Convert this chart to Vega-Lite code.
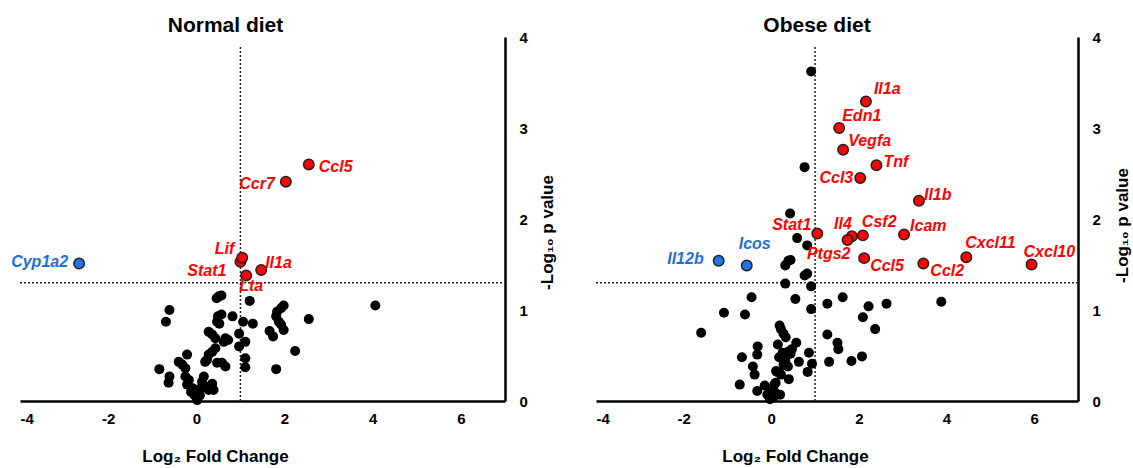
{
  "$schema": "https://vega.github.io/schema/vega-lite/v6.json",
  "padding": {"left": 11, "top": 15, "right": 5, "bottom": 2},
  "spacing": 40,
  "config": {
    "view": {"stroke": null},
    "font": "Liberation Sans",
    "axis": {"grid": false, "ticks": false, "tickSize": 0, "domainColor": "#000", "domainWidth": 2.5, "labelFont": "Liberation Sans", "labelFontSize": 15, "labelFontWeight": "bold", "labelColor": "#000", "titleFont": "Liberation Sans", "titleFontSize": 17, "titleFontWeight": "bold", "titleColor": "#000"},
    "title": {"font": "Liberation Sans", "fontSize": 21, "fontWeight": "bold", "color": "#000", "anchor": "middle"}
  },
  "datasets": {
    "cut_fc": [{"cutoff": 1, "lo": 0, "hi": 3.9}],
    "cut_p": [{"cutoff": 1.3, "lo": -4, "hi": 7}],
    "normal": [
      {"gene": "Ccl5", "x": 2.55, "y": 2.60, "group": "up"},
      {"gene": "Ccr7", "x": 2.03, "y": 2.41, "group": "up"},
      {"gene": "Stat1", "x": 1.0, "y": 1.53, "group": "up"},
      {"gene": "Lif", "x": 1.04, "y": 1.575, "group": "up"},
      {"gene": "Il1a", "x": 1.47, "y": 1.44, "group": "up"},
      {"gene": "Lta", "x": 1.13, "y": 1.38, "group": "up"},
      {"gene": "Cyp1a2", "x": -2.66, "y": 1.51, "group": "down"},
      {"gene": "", "x": 0.57, "y": 1.16, "group": "ns"},
      {"gene": "", "x": 0.51, "y": 1.15, "group": "ns"},
      {"gene": "", "x": 0.46, "y": 1.13, "group": "ns"},
      {"gene": "", "x": 1.21, "y": 1.10, "group": "ns"},
      {"gene": "", "x": -0.61, "y": 1.00, "group": "ns"},
      {"gene": "", "x": -0.69, "y": 0.87, "group": "ns"},
      {"gene": "", "x": 0.49, "y": 0.93, "group": "ns"},
      {"gene": "", "x": 0.57, "y": 0.95, "group": "ns"},
      {"gene": "", "x": 0.47, "y": 0.87, "group": "ns"},
      {"gene": "", "x": 0.52, "y": 0.85, "group": "ns"},
      {"gene": "", "x": 0.82, "y": 0.93, "group": "ns"},
      {"gene": "", "x": 1.06, "y": 0.87, "group": "ns"},
      {"gene": "", "x": 1.28, "y": 0.85, "group": "ns"},
      {"gene": "", "x": 0.28, "y": 0.76, "group": "ns"},
      {"gene": "", "x": 0.36, "y": 0.73, "group": "ns"},
      {"gene": "", "x": 0.43, "y": 0.69, "group": "ns"},
      {"gene": "", "x": 0.66, "y": 0.69, "group": "ns"},
      {"gene": "", "x": 0.72, "y": 0.67, "group": "ns"},
      {"gene": "", "x": 0.62, "y": 0.65, "group": "ns"},
      {"gene": "", "x": 0.97, "y": 0.74, "group": "ns"},
      {"gene": "", "x": 0.97, "y": 0.60, "group": "ns"},
      {"gene": "", "x": 1.11, "y": 0.65, "group": "ns"},
      {"gene": "", "x": 0.43, "y": 0.58, "group": "ns"},
      {"gene": "", "x": 0.36, "y": 0.54, "group": "ns"},
      {"gene": "", "x": 0.28, "y": 0.51, "group": "ns"},
      {"gene": "", "x": 0.24, "y": 0.45, "group": "ns"},
      {"gene": "", "x": -0.21, "y": 0.51, "group": "ns"},
      {"gene": "", "x": -0.40, "y": 0.43, "group": "ns"},
      {"gene": "", "x": -0.32, "y": 0.40, "group": "ns"},
      {"gene": "", "x": -0.25, "y": 0.36, "group": "ns"},
      {"gene": "", "x": -0.84, "y": 0.35, "group": "ns"},
      {"gene": "", "x": 0.20, "y": 0.43, "group": "ns"},
      {"gene": "", "x": 0.47, "y": 0.42, "group": "ns"},
      {"gene": "", "x": 0.58, "y": 0.42, "group": "ns"},
      {"gene": "", "x": 0.66, "y": 0.38, "group": "ns"},
      {"gene": "", "x": 1.11, "y": 0.47, "group": "ns"},
      {"gene": "", "x": 1.11, "y": 0.37, "group": "ns"},
      {"gene": "", "x": -0.61, "y": 0.27, "group": "ns"},
      {"gene": "", "x": -0.63, "y": 0.20, "group": "ns"},
      {"gene": "", "x": -0.25, "y": 0.27, "group": "ns"},
      {"gene": "", "x": -0.17, "y": 0.23, "group": "ns"},
      {"gene": "", "x": -0.21, "y": 0.18, "group": "ns"},
      {"gene": "", "x": 0.17, "y": 0.27, "group": "ns"},
      {"gene": "", "x": 0.13, "y": 0.21, "group": "ns"},
      {"gene": "", "x": 0.20, "y": 0.16, "group": "ns"},
      {"gene": "", "x": 0.36, "y": 0.19, "group": "ns"},
      {"gene": "", "x": 0.28, "y": 0.12, "group": "ns"},
      {"gene": "", "x": 0.39, "y": 0.12, "group": "ns"},
      {"gene": "", "x": -0.08, "y": 0.14, "group": "ns"},
      {"gene": "", "x": 0.05, "y": 0.10, "group": "ns"},
      {"gene": "", "x": -0.05, "y": 0.07, "group": "ns"},
      {"gene": "", "x": 0.08, "y": 0.06, "group": "ns"},
      {"gene": "", "x": 0.12, "y": 0.15, "group": "ns"},
      {"gene": "", "x": -0.12, "y": 0.10, "group": "ns"},
      {"gene": "", "x": 0.02, "y": 0.01, "group": "ns"},
      {"gene": "", "x": 0.00, "y": 0.04, "group": "ns"},
      {"gene": "", "x": 1.98, "y": 1.05, "group": "ns"},
      {"gene": "", "x": 1.92, "y": 1.02, "group": "ns"},
      {"gene": "", "x": 1.83, "y": 0.98, "group": "ns"},
      {"gene": "", "x": 1.81, "y": 0.93, "group": "ns"},
      {"gene": "", "x": 1.87, "y": 0.87, "group": "ns"},
      {"gene": "", "x": 1.92, "y": 0.84, "group": "ns"},
      {"gene": "", "x": 1.98, "y": 0.78, "group": "ns"},
      {"gene": "", "x": 1.66, "y": 0.77, "group": "ns"},
      {"gene": "", "x": 1.74, "y": 0.71, "group": "ns"},
      {"gene": "", "x": 2.55, "y": 0.90, "group": "ns"},
      {"gene": "", "x": 2.24, "y": 0.55, "group": "ns"},
      {"gene": "", "x": 1.81, "y": 0.35, "group": "ns"},
      {"gene": "", "x": 4.06, "y": 1.05, "group": "ns"}
    ],
    "obese": [
      {"gene": "Il1a", "x": 2.16, "y": 3.29, "group": "up"},
      {"gene": "Edn1", "x": 1.55, "y": 3.0, "group": "up"},
      {"gene": "Vegfa", "x": 1.64, "y": 2.76, "group": "up"},
      {"gene": "Tnf", "x": 2.40, "y": 2.59, "group": "up"},
      {"gene": "Ccl3", "x": 2.03, "y": 2.45, "group": "up"},
      {"gene": "Il1b", "x": 3.37, "y": 2.20, "group": "up"},
      {"gene": "Stat1", "x": 1.05, "y": 1.84, "group": "up"},
      {"gene": "Il4", "x": 1.84, "y": 1.81, "group": "up"},
      {"gene": "Ptgs2", "x": 1.74, "y": 1.77, "group": "up"},
      {"gene": "Csf2", "x": 2.09, "y": 1.82, "group": "up"},
      {"gene": "Icam", "x": 3.03, "y": 1.83, "group": "up"},
      {"gene": "Cxcl11", "x": 4.45, "y": 1.58, "group": "up"},
      {"gene": "Cxcl10", "x": 5.94, "y": 1.50, "group": "up"},
      {"gene": "Ccl5", "x": 2.12, "y": 1.57, "group": "up"},
      {"gene": "Ccl2", "x": 3.47, "y": 1.51, "group": "up"},
      {"gene": "Il12b", "x": -1.2, "y": 1.54, "group": "down"},
      {"gene": "Icos", "x": -0.56, "y": 1.49, "group": "down"},
      {"gene": "", "x": 0.91, "y": 3.62, "group": "ns"},
      {"gene": "", "x": 0.76, "y": 2.57, "group": "ns"},
      {"gene": "", "x": 0.43, "y": 2.06, "group": "ns"},
      {"gene": "", "x": 0.59, "y": 1.79, "group": "ns"},
      {"gene": "", "x": 0.82, "y": 1.71, "group": "ns"},
      {"gene": "", "x": 0.32, "y": 1.49, "group": "ns"},
      {"gene": "", "x": 0.39, "y": 1.54, "group": "ns"},
      {"gene": "", "x": 0.44, "y": 1.55, "group": "ns"},
      {"gene": "", "x": 0.76, "y": 1.38, "group": "ns"},
      {"gene": "", "x": 0.82, "y": 1.40, "group": "ns"},
      {"gene": "", "x": 0.32, "y": 1.29, "group": "ns"},
      {"gene": "", "x": 0.91, "y": 1.26, "group": "ns"},
      {"gene": "", "x": -0.45, "y": 1.14, "group": "ns"},
      {"gene": "", "x": 0.55, "y": 1.12, "group": "ns"},
      {"gene": "", "x": 0.91, "y": 1.01, "group": "ns"},
      {"gene": "", "x": -1.08, "y": 0.97, "group": "ns"},
      {"gene": "", "x": -0.60, "y": 0.95, "group": "ns"},
      {"gene": "", "x": -1.60, "y": 0.75, "group": "ns"},
      {"gene": "", "x": 1.28, "y": 1.07, "group": "ns"},
      {"gene": "", "x": 1.63, "y": 1.14, "group": "ns"},
      {"gene": "", "x": 2.22, "y": 1.04, "group": "ns"},
      {"gene": "", "x": 2.63, "y": 1.07, "group": "ns"},
      {"gene": "", "x": 2.09, "y": 0.92, "group": "ns"},
      {"gene": "", "x": 2.37, "y": 0.79, "group": "ns"},
      {"gene": "", "x": 3.88, "y": 1.09, "group": "ns"},
      {"gene": "", "x": 1.28, "y": 0.73, "group": "ns"},
      {"gene": "", "x": 1.51, "y": 0.64, "group": "ns"},
      {"gene": "", "x": 1.53, "y": 0.57, "group": "ns"},
      {"gene": "", "x": 1.32, "y": 0.43, "group": "ns"},
      {"gene": "", "x": 1.83, "y": 0.44, "group": "ns"},
      {"gene": "", "x": 2.07, "y": 0.49, "group": "ns"},
      {"gene": "", "x": 0.86, "y": 0.53, "group": "ns"},
      {"gene": "", "x": 0.93, "y": 0.41, "group": "ns"},
      {"gene": "", "x": 0.83, "y": 0.32, "group": "ns"},
      {"gene": "", "x": 0.63, "y": 0.43, "group": "ns"},
      {"gene": "", "x": 0.19, "y": 0.83, "group": "ns"},
      {"gene": "", "x": 0.22, "y": 0.79, "group": "ns"},
      {"gene": "", "x": 0.28, "y": 0.74, "group": "ns"},
      {"gene": "", "x": 0.33, "y": 0.70, "group": "ns"},
      {"gene": "", "x": 0.57, "y": 0.64, "group": "ns"},
      {"gene": "", "x": 0.15, "y": 0.62, "group": "ns"},
      {"gene": "", "x": 0.47, "y": 0.57, "group": "ns"},
      {"gene": "", "x": 0.38, "y": 0.54, "group": "ns"},
      {"gene": "", "x": 0.26, "y": 0.53, "group": "ns"},
      {"gene": "", "x": 0.18, "y": 0.48, "group": "ns"},
      {"gene": "", "x": 0.32, "y": 0.44, "group": "ns"},
      {"gene": "", "x": 0.38, "y": 0.38, "group": "ns"},
      {"gene": "", "x": 0.13, "y": 0.32, "group": "ns"},
      {"gene": "", "x": 0.22, "y": 0.29, "group": "ns"},
      {"gene": "", "x": 0.40, "y": 0.24, "group": "ns"},
      {"gene": "", "x": 0.28, "y": 0.40, "group": "ns"},
      {"gene": "", "x": 0.35, "y": 0.50, "group": "ns"},
      {"gene": "", "x": 0.44, "y": 0.52, "group": "ns"},
      {"gene": "", "x": -0.31, "y": 0.60, "group": "ns"},
      {"gene": "", "x": -0.32, "y": 0.51, "group": "ns"},
      {"gene": "", "x": -0.67, "y": 0.48, "group": "ns"},
      {"gene": "", "x": -0.42, "y": 0.38, "group": "ns"},
      {"gene": "", "x": -0.38, "y": 0.29, "group": "ns"},
      {"gene": "", "x": -0.72, "y": 0.18, "group": "ns"},
      {"gene": "", "x": -0.32, "y": 0.11, "group": "ns"},
      {"gene": "", "x": -0.15, "y": 0.17, "group": "ns"},
      {"gene": "", "x": 0.10, "y": 0.20, "group": "ns"},
      {"gene": "", "x": 0.11, "y": 0.33, "group": "ns"},
      {"gene": "", "x": 0.19, "y": 0.31, "group": "ns"},
      {"gene": "", "x": 0.07, "y": 0.18, "group": "ns"},
      {"gene": "", "x": 0.01, "y": 0.11, "group": "ns"},
      {"gene": "", "x": 0.09, "y": 0.09, "group": "ns"},
      {"gene": "", "x": 0.20, "y": 0.07, "group": "ns"},
      {"gene": "", "x": -0.09, "y": 0.07, "group": "ns"},
      {"gene": "", "x": -0.03, "y": 0.02, "group": "ns"},
      {"gene": "", "x": 0.05, "y": 0.04, "group": "ns"}
    ]
  },
  "hconcat": [
    {
      "width": 485,
      "height": 364,
      "title": {"text": "Normal diet", "dx": -37, "offset": -6},
      "encoding": {
        "x": {"field": "x", "type": "quantitative", "scale": {"domain": [-4, 7], "nice": false, "zero": false},
              "axis": {"values": [-4, -2, 0, 2, 4, 6], "labelExpr": "'' + datum.value", "labelPadding": 10, "title": "Log₂ Fold Change", "titleX": 195, "titleY": 60, "titleBaseline": "alphabetic", "titleAlign": "center"}},
        "y": {"field": "y", "type": "quantitative", "scale": {"domain": [0, 4], "nice": false, "zero": false},
              "axis": {"orient": "right", "values": [0, 1, 2, 3, 4], "labelPadding": 14, "title": "-Log₁₀ p value", "titleAngle": 270, "titleX": 42, "titleY": 195, "titleAlign": "center", "titleBaseline": "middle"}}
      },
      "layer": [
        {"data": {"name": "cut_fc"}, "mark": {"type": "rule", "strokeDash": [2, 2], "strokeWidth": 1.5, "color": "#222"},
         "encoding": {"x": {"field": "cutoff", "type": "quantitative"}, "y": {"field": "lo", "type": "quantitative"}, "y2": {"field": "hi"}}},
        {"data": {"name": "cut_p"}, "mark": {"type": "rule", "strokeDash": [2, 2], "strokeWidth": 1.5, "color": "#222"},
         "encoding": {"y": {"field": "cutoff", "type": "quantitative"}, "x": {"field": "lo", "type": "quantitative"}, "x2": {"field": "hi"}}},
        {"data": {"name": "normal"}, "layer": [
          {"transform": [{"filter": "datum.group == 'ns'"}], "mark": {"type": "circle", "size": 100, "color": "#000", "opacity": 1}},
          {"transform": [{"filter": "datum.group == 'up'"}], "mark": {"type": "circle", "size": 110, "fill": "#FF0000", "stroke": "#222", "strokeWidth": 1.5, "opacity": 1}},
          {"transform": [{"filter": "datum.group == 'down'"}], "mark": {"type": "circle", "size": 110, "fill": "#1E74E8", "stroke": "#222", "strokeWidth": 1.5, "opacity": 1}},
          {"transform": [{"filter": "datum.gene == 'Ccl5'"}], "mark": {"type": "text", "align": "left", "dx": 10, "dy": 3, "fontSize": 16, "fontWeight": "bold", "fontStyle": "italic", "color": "#FF0000"}, "encoding": {"text": {"field": "gene"}}},
          {"transform": [{"filter": "datum.gene == 'Ccr7'"}], "mark": {"type": "text", "align": "right", "dx": -11, "dy": 2, "fontSize": 16, "fontWeight": "bold", "fontStyle": "italic", "color": "#FF0000"}, "encoding": {"text": {"field": "gene"}}},
          {"transform": [{"filter": "datum.gene == 'Lif'"}], "mark": {"type": "text", "align": "right", "dx": -8, "dy": -9, "fontSize": 16, "fontWeight": "bold", "fontStyle": "italic", "color": "#FF0000"}, "encoding": {"text": {"field": "gene"}}},
          {"transform": [{"filter": "datum.gene == 'Stat1'"}], "mark": {"type": "text", "align": "right", "dx": -14, "dy": 9, "fontSize": 16, "fontWeight": "bold", "fontStyle": "italic", "color": "#FF0000"}, "encoding": {"text": {"field": "gene"}}},
          {"transform": [{"filter": "datum.gene == 'Il1a'"}], "mark": {"type": "text", "align": "left", "dx": 4, "dy": -7, "fontSize": 16, "fontWeight": "bold", "fontStyle": "italic", "color": "#FF0000"}, "encoding": {"text": {"field": "gene"}}},
          {"transform": [{"filter": "datum.gene == 'Lta'"}], "mark": {"type": "text", "align": "center", "dx": 5, "dy": 11, "fontSize": 16, "fontWeight": "bold", "fontStyle": "italic", "color": "#FF0000"}, "encoding": {"text": {"field": "gene"}}},
          {"transform": [{"filter": "datum.gene == 'Cyp1a2'"}], "mark": {"type": "text", "align": "right", "dx": -11, "dy": -2, "fontSize": 16, "fontWeight": "bold", "fontStyle": "italic", "color": "#1F6FD6"}, "encoding": {"text": {"field": "gene"}}}
        ]}
      ]
    },
    {
      "width": 482,
      "height": 364,
      "title": {"text": "Obese diet", "dx": -20, "offset": -6},
      "encoding": {
        "x": {"field": "x", "type": "quantitative", "scale": {"domain": [-4, 7], "nice": false, "zero": false},
              "axis": {"values": [-4, -2, 0, 2, 4, 6], "labelExpr": "'' + datum.value", "labelPadding": 10, "title": "Log₂ Fold Change", "titleX": 199, "titleY": 60, "titleBaseline": "alphabetic", "titleAlign": "center"}},
        "y": {"field": "y", "type": "quantitative", "scale": {"domain": [0, 4], "nice": false, "zero": false},
              "axis": {"orient": "right", "values": [0, 1, 2, 3, 4], "labelPadding": 14, "title": "-Log₁₀ p value", "titleAngle": 270, "titleX": 44, "titleY": 188, "titleAlign": "center", "titleBaseline": "middle"}}
      },
      "layer": [
        {"data": {"name": "cut_fc"}, "mark": {"type": "rule", "strokeDash": [2, 2], "strokeWidth": 1.5, "color": "#222"},
         "encoding": {"x": {"field": "cutoff", "type": "quantitative"}, "y": {"field": "lo", "type": "quantitative"}, "y2": {"field": "hi"}}},
        {"data": {"name": "cut_p"}, "mark": {"type": "rule", "strokeDash": [2, 2], "strokeWidth": 1.5, "color": "#222"},
         "encoding": {"y": {"field": "cutoff", "type": "quantitative"}, "x": {"field": "lo", "type": "quantitative"}, "x2": {"field": "hi"}}},
        {"data": {"name": "obese"}, "layer": [
          {"transform": [{"filter": "datum.group == 'ns'"}], "mark": {"type": "circle", "size": 100, "color": "#000", "opacity": 1}},
          {"transform": [{"filter": "datum.group == 'up'"}], "mark": {"type": "circle", "size": 110, "fill": "#FF0000", "stroke": "#222", "strokeWidth": 1.5, "opacity": 1}},
          {"transform": [{"filter": "datum.group == 'down'"}], "mark": {"type": "circle", "size": 110, "fill": "#1E74E8", "stroke": "#222", "strokeWidth": 1.5, "opacity": 1}},
          {"transform": [{"filter": "datum.gene == 'Il1a'"}], "mark": {"type": "text", "align": "left", "dx": 8, "dy": -13, "fontSize": 16, "fontWeight": "bold", "fontStyle": "italic", "color": "#FF0000"}, "encoding": {"text": {"field": "gene"}}},
          {"transform": [{"filter": "datum.gene == 'Edn1'"}], "mark": {"type": "text", "align": "left", "dx": 3, "dy": -12, "fontSize": 16, "fontWeight": "bold", "fontStyle": "italic", "color": "#FF0000"}, "encoding": {"text": {"field": "gene"}}},
          {"transform": [{"filter": "datum.gene == 'Vegfa'"}], "mark": {"type": "text", "align": "left", "dx": 5, "dy": -9, "fontSize": 16, "fontWeight": "bold", "fontStyle": "italic", "color": "#FF0000"}, "encoding": {"text": {"field": "gene"}}},
          {"transform": [{"filter": "datum.gene == 'Tnf'"}], "mark": {"type": "text", "align": "left", "dx": 7, "dy": -3, "fontSize": 16, "fontWeight": "bold", "fontStyle": "italic", "color": "#FF0000"}, "encoding": {"text": {"field": "gene"}}},
          {"transform": [{"filter": "datum.gene == 'Ccl3'"}], "mark": {"type": "text", "align": "right", "dx": -7, "dy": 0, "fontSize": 16, "fontWeight": "bold", "fontStyle": "italic", "color": "#FF0000"}, "encoding": {"text": {"field": "gene"}}},
          {"transform": [{"filter": "datum.gene == 'Il1b'"}], "mark": {"type": "text", "align": "left", "dx": 5, "dy": -6, "fontSize": 16, "fontWeight": "bold", "fontStyle": "italic", "color": "#FF0000"}, "encoding": {"text": {"field": "gene"}}},
          {"transform": [{"filter": "datum.gene == 'Stat1'"}], "mark": {"type": "text", "align": "right", "dx": -6, "dy": -9, "fontSize": 16, "fontWeight": "bold", "fontStyle": "italic", "color": "#FF0000"}, "encoding": {"text": {"field": "gene"}}},
          {"transform": [{"filter": "datum.gene == 'Il4'"}], "mark": {"type": "text", "align": "center", "dx": -9, "dy": -12, "fontSize": 16, "fontWeight": "bold", "fontStyle": "italic", "color": "#FF0000"}, "encoding": {"text": {"field": "gene"}}},
          {"transform": [{"filter": "datum.gene == 'Ptgs2'"}], "mark": {"type": "text", "align": "right", "dx": 3, "dy": 14, "fontSize": 16, "fontWeight": "bold", "fontStyle": "italic", "color": "#FF0000"}, "encoding": {"text": {"field": "gene"}}},
          {"transform": [{"filter": "datum.gene == 'Csf2'"}], "mark": {"type": "text", "align": "left", "dx": -1, "dy": -13, "fontSize": 16, "fontWeight": "bold", "fontStyle": "italic", "color": "#FF0000"}, "encoding": {"text": {"field": "gene"}}},
          {"transform": [{"filter": "datum.gene == 'Icam'"}], "mark": {"type": "text", "align": "left", "dx": 6, "dy": -8, "fontSize": 16, "fontWeight": "bold", "fontStyle": "italic", "color": "#FF0000"}, "encoding": {"text": {"field": "gene"}}},
          {"transform": [{"filter": "datum.gene == 'Cxcl11'"}], "mark": {"type": "text", "align": "left", "dx": -1, "dy": -14, "fontSize": 16, "fontWeight": "bold", "fontStyle": "italic", "color": "#FF0000"}, "encoding": {"text": {"field": "gene"}}},
          {"transform": [{"filter": "datum.gene == 'Cxcl10'"}], "mark": {"type": "text", "align": "left", "dx": -8, "dy": -13, "fontSize": 16, "fontWeight": "bold", "fontStyle": "italic", "color": "#FF0000"}, "encoding": {"text": {"field": "gene"}}},
          {"transform": [{"filter": "datum.gene == 'Ccl5'"}], "mark": {"type": "text", "align": "left", "dx": 6, "dy": 8, "fontSize": 16, "fontWeight": "bold", "fontStyle": "italic", "color": "#FF0000"}, "encoding": {"text": {"field": "gene"}}},
          {"transform": [{"filter": "datum.gene == 'Ccl2'"}], "mark": {"type": "text", "align": "left", "dx": 7, "dy": 7, "fontSize": 16, "fontWeight": "bold", "fontStyle": "italic", "color": "#FF0000"}, "encoding": {"text": {"field": "gene"}}},
          {"transform": [{"filter": "datum.gene == 'Il12b'"}], "mark": {"type": "text", "align": "right", "dx": -15, "dy": -2, "fontSize": 16, "fontWeight": "bold", "fontStyle": "italic", "color": "#1F6FD6"}, "encoding": {"text": {"field": "gene"}}},
          {"transform": [{"filter": "datum.gene == 'Icos'"}], "mark": {"type": "text", "align": "left", "dx": -8, "dy": -21, "fontSize": 16, "fontWeight": "bold", "fontStyle": "italic", "color": "#1F6FD6"}, "encoding": {"text": {"field": "gene"}}}
        ]}
      ]
    }
  ]
}
